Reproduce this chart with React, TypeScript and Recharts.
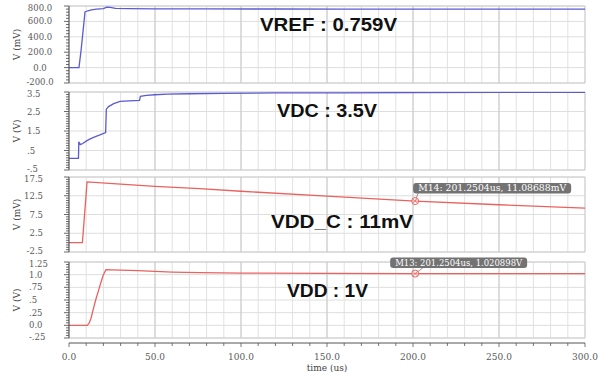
import React from "react";
import {
  CartesianGrid,
  Line,
  LineChart,
  ReferenceDot,
  ReferenceLine,
  XAxis,
  YAxis,
} from "recharts";

// Four stacked transient traces (VREF, VDC, VDD_C, VDD) sharing one time axis.

const timeTicks = [0, 10, 20, 30, 40, 50, 60, 70, 80, 90, 100, 110, 120, 130, 140, 150, 160, 170, 180, 190, 200, 210, 220, 230, 240, 250, 260, 270, 280, 290, 300];
const timeLabels = [0, 50, 100, 150, 200, 250, 300];
const timeLabelText = ["0.0", "50.0", "100.0", "150.0", "200.0", "250.0", "300.0"];

// VREF (mV)
const vrefT = [0, 5.8, 7, 8.2, 9.3, 11, 13, 16, 20, 22, 24, 27, 35, 50, 80, 120, 160, 200, 250, 300];
const vrefV = [0, 0, 220, 480, 722, 738, 750, 760, 766, 785, 782, 768, 765, 763, 762, 761, 760, 760, 759, 759];
const vrefTicks = [800, 600, 400, 200, 0, -200];
const vrefTickText = ["800.0", "600.0", "400.0", "200.0", "0.0", "-200.0"];

// VDC (V)
const vdcT = [0, 5.5, 5.7, 6.5, 8, 10, 12, 15, 18, 21.3, 21.7, 23, 26, 29.7, 35, 41, 41.5, 45, 50, 57, 70, 90, 120, 160, 200, 250, 300];
const vdcV = [0.1, 0.1, 0.95, 0.8, 0.86, 0.98, 1.08, 1.2, 1.3, 1.42, 2.62, 2.75, 2.9, 3.02, 3.05, 3.07, 3.28, 3.33, 3.36, 3.39, 3.41, 3.43, 3.45, 3.46, 3.47, 3.48, 3.48];
const vdcTicks = [3.5, 2.5, 1.5, 0.5, -0.5];
const vdcTickText = ["3.5", "2.5", "1.5", ".5", "-.5"];

// VDD_C (mV)
const vddcT = [0, 7.8, 10.5, 30, 50, 76, 100, 150, 201.25, 250, 300];
const vddcV = [0, 0, 16.2, 15.6, 15.0, 14.4, 13.7, 12.4, 11.09, 10.1, 9.2];
const vddcTicks = [17.5, 12.5, 7.5, 2.5, -2.5];
const vddcTickText = ["17.5", "12.5", "7.5", "2.5", "-2.5"];

// VDD (V)
const vddT = [0, 10.7, 11.8, 12.8, 14.2, 15.5, 17.1, 18.5, 20, 21.5, 25, 30, 40, 50, 60, 76, 100, 150, 201.25, 250, 300];
const vddV = [0, 0, 0.05, 0.14, 0.33, 0.5, 0.68, 0.84, 1.0, 1.1, 1.095, 1.088, 1.078, 1.065, 1.052, 1.042, 1.032, 1.025, 1.021, 1.02, 1.02];
const vddTicks = [1.25, 1.0, 0.75, 0.5, 0.25, 0, -0.25];
const vddTickText = ["1.25", "1.0", ".75", ".5", ".25", "0.0", "-.25"];

const m14 = { t: 201.2504, v: 11.08688, text: "M14: 201.2504us, 11.08688mV" };
const m13 = { t: 201.2504, v: 1.020898, text: "M13: 201.2504us, 1.020898V" };

const BLUE = "#5b5bd2";
const RED = "#e8625f";
const TICK_FONT = "'DejaVu Serif', serif";

const zip = (t: number[], v: number[]) => t.map((x, i) => ({ t: x, v: v[i] }));

const ruler = (min: number, max: number, step: number) => {
  const out: number[] = [];
  const n = Math.round((max - min) / step);
  for (let i = 0; i <= n; i++) out.push(+(min + i * step).toFixed(4));
  return out;
};

const same = (a: number, b: number) => Math.abs(a - b) < 1e-6;

function YTick(props: any) {
  const { x, y, payload, labels, texts, anchor, dx } = props;
  const i = labels.findIndex((l: number) => same(l, payload.value));
  const major = i >= 0;
  // nudge the end labels inward a little so neighbouring panels don't collide
  const nudge = i === 0 ? 1.5 : i === labels.length - 1 ? -1.5 : 0;
  return (
    <g>
      <line x1={x - (major ? 5 : 3)} x2={x} y1={y} y2={y} stroke="#444" strokeWidth={0.8} />
      {major && (
        <text x={x + dx} y={y + nudge} dy={3} textAnchor={anchor} fontSize={8.5} fontFamily={TICK_FONT} fill="#5a5a5a">
          {texts[i]}
        </text>
      )}
    </g>
  );
}

function XTick(props: any) {
  const { x, y, payload } = props;
  const i = timeLabels.findIndex((l) => same(l, payload.value));
  const major = i >= 0;
  return (
    <g>
      <line x1={x} x2={x} y1={y + 5} y2={y + (major ? 9 : 8)} stroke="#555" strokeWidth={0.8} />
      {major && (
        <text x={x} y={y + 22} textAnchor="middle" fontSize={9} fontFamily={TICK_FONT} fill="#5a5a5a">
          {timeLabelText[i]}
        </text>
      )}
    </g>
  );
}

function Marker(props: any) {
  const { cx, cy, text, bx, by, bw, lx } = props;
  return (
    <g>
      <line x1={cx} y1={cy} x2={cx + lx} y2={cy + by + 10} stroke="#777" strokeWidth={0.8} />
      <rect x={cx + bx} y={cy + by} width={bw} height={10.5} rx={3} fill="#737373" />
      <text
        x={cx + bx + 5}
        y={cy + by + 8}
        fontSize={8.5}
        fontFamily={TICK_FONT}
        fill="#fff"
        textLength={bw - 10}
        lengthAdjust="spacingAndGlyphs"
      >
        {text}
      </text>
      <circle cx={cx} cy={cy} r={3.5} fill="#fff" fillOpacity={0.4} stroke={RED} strokeWidth={1} />
      <path
        d={`M${cx - 2.4},${cy - 2.4}L${cx + 2.4},${cy + 2.4}M${cx + 2.4},${cy - 2.4}L${cx - 2.4},${cy + 2.4}`}
        stroke={RED}
        strokeWidth={0.7}
      />
    </g>
  );
}

type PanelProps = {
  top: number;
  plotHeight: number;
  data: { t: number; v: number }[];
  color: string;
  domain: [number, number];
  step: number;
  labels: number[];
  texts: string[];
  anchor: "start" | "middle" | "end";
  dx: number;
  title: string;
  showTime?: boolean;
  marker?: { t: number; v: number; text: string; bx: number; by: number; bw: number; lx: number };
};

function Panel(p: PanelProps) {
  const bottom = p.showTime ? 34 : 4;
  const height = 6 + p.plotHeight + bottom;
  return (
    <div style={{ position: "absolute", left: 0, top: p.top - 6 }}>
      <LineChart width={602} height={height} data={p.data} margin={{ top: 6, right: 17, bottom: p.showTime ? 0 : 4, left: 0 }}>
        <XAxis
          type="number"
          dataKey="t"
          domain={[0, 300]}
          ticks={timeTicks}
          interval={0}
          allowDataOverflow
          hide={!p.showTime}
          height={34}
          tickLine={false}
          tickSize={0}
          tickMargin={0}
          tick={<XTick />}
          axisLine={{ stroke: "#555", transform: "translate(0,5)" }}
          label={{
            value: "time (us)",
            position: "insideBottom",
            offset: 1,
            style: { fontSize: 9, fontFamily: TICK_FONT, fill: "#444" },
          }}
        />
        <YAxis
          type="number"
          domain={p.domain}
          ticks={ruler(p.domain[0], p.domain[1], p.step)}
          interval={0}
          allowDataOverflow
          width={69}
          tickLine={false}
          tickSize={0}
          tickMargin={0}
          tick={<YTick labels={p.labels} texts={p.texts} anchor={p.anchor} dx={p.dx} />}
          axisLine={{ stroke: "#444" }}
          label={{
            value: p.title,
            angle: -90,
            position: "insideLeft",
            offset: 17,
            style: { textAnchor: "middle", fontSize: 9, fontFamily: TICK_FONT, fill: "#444" },
          }}
        />
        <CartesianGrid horizontal={false} stroke="#e2e2e2" strokeWidth={1} />
        {p.labels.map((v) => (
          <ReferenceLine key={"h" + v} y={v} stroke="#dedede" strokeWidth={1} />
        ))}
        {timeLabels.slice(1, -1).map((t) => (
          <ReferenceLine key={t} x={t} stroke="#c8c8c8" strokeWidth={1} />
        ))}
        <ReferenceLine x={300} stroke="#cccccc" />
        <ReferenceLine y={p.domain[0]} stroke="#cccccc" />
        <ReferenceLine y={p.domain[1]} stroke="#cccccc" />
        <Line
          type="linear"
          dataKey="v"
          stroke={p.color}
          strokeWidth={1.3}
          dot={false}
          isAnimationActive={false}
        />
        {p.marker && (
          <ReferenceDot
            x={p.marker.t}
            y={p.marker.v}
            r={4}
            shape={(sp: any) => <Marker {...sp} {...p.marker} />}
          />
        )}
      </LineChart>
    </div>
  );
}

const bigText = { fontFamily: "'Liberation Sans', Arial, sans-serif", fontWeight: 700, fontSize: 18, fill: "#111" };

export default function App() {
  return (
    <div style={{ position: "absolute", left: 0, top: 0, width: 602, height: 372, background: "#fff", overflow: "hidden" }}>
      <Panel top={6} plotHeight={77} data={zip(vrefT, vrefV)} color={BLUE} domain={[-200, 800]} step={40}
        labels={vrefTicks} texts={vrefTickText} anchor="middle" dx={-29} title="V (mV)" />
      <Panel top={92} plotHeight={78} data={zip(vdcT, vdcV)} color={BLUE} domain={[-0.5, 3.5]} step={0.125}
        labels={vdcTicks} texts={vdcTickText} anchor="start" dx={-42} title="V (V)" />
      <Panel top={177} plotHeight={75} data={zip(vddcT, vddcV)} color={RED} domain={[-2.5, 17.5]} step={0.625}
        labels={vddcTicks} texts={vddcTickText} anchor="end" dx={-26} title="V (mV)"
        marker={{ ...m14, bx: -2, by: -18, bw: 158, lx: 3 }} />
      <Panel top={262} plotHeight={76} data={zip(vddT, vddV)} color={RED} domain={[-0.25, 1.25]} step={0.05}
        labels={vddTicks} texts={vddTickText} anchor="start" dx={-40} title="V (V)" showTime
        marker={{ ...m13, bx: -25, by: -16, bw: 137, lx: 8 }} />
      <svg width={602} height={372} style={{ position: "absolute", left: 0, top: 0, pointerEvents: "none" }}>
        <text x={260} y={31} style={bigText} textLength={137} lengthAdjust="spacingAndGlyphs">VREF : 0.759V</text>
        <text x={277} y={117} style={bigText} textLength={100} lengthAdjust="spacingAndGlyphs">VDC : 3.5V</text>
        <text x={271} y={228} style={bigText} textLength={142} lengthAdjust="spacingAndGlyphs">VDD_C : 11mV</text>
        <text x={287} y={297} style={bigText} textLength={81} lengthAdjust="spacingAndGlyphs">VDD : 1V</text>
      </svg>
    </div>
  );
}
